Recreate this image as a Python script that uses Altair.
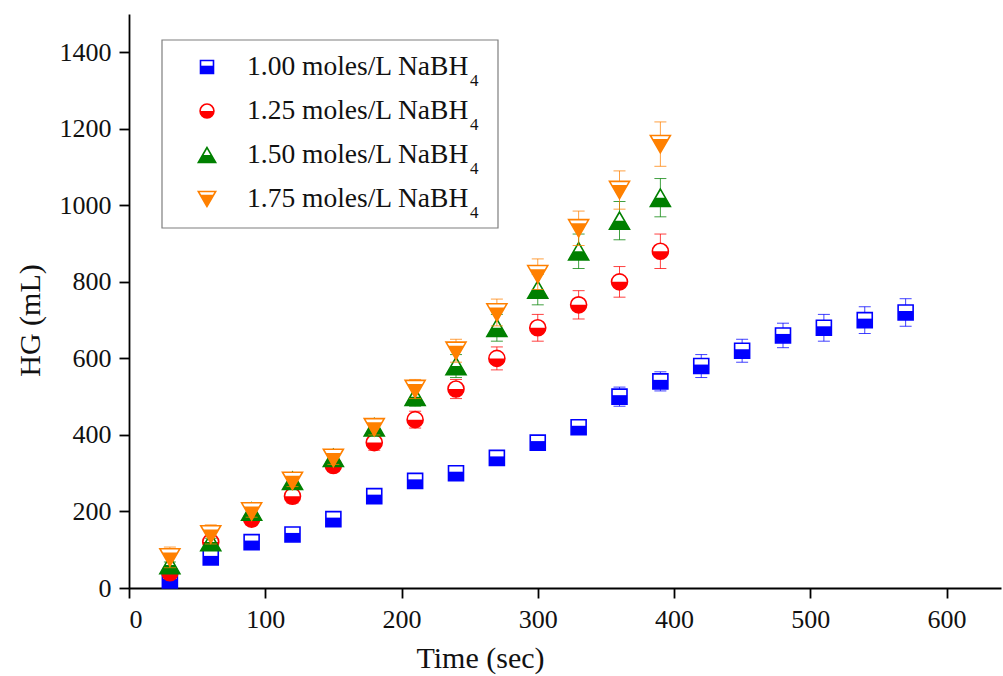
import altair as alt
import pandas as pd

# Sampling times (s)
time_long = [30, 60, 90, 120, 150, 180, 210, 240, 270, 300, 330, 360, 390,
             420, 450, 480, 510, 540, 570]
time_short = [30, 60, 90, 120, 150, 180, 210, 240, 270, 300, 330, 360, 390]

# Hydrogen generated (mL) and error (mL) for each NaBH4 concentration
hg_100 = [20, 80, 120, 140, 180, 240, 280, 300, 340, 380, 420, 500, 540,
          580, 620, 660, 680, 700, 720]
err_100 = [6, 10, 10, 10, 10, 10, 12, 12, 12, 14, 12, 25, 25,
           30, 30, 32, 35, 35, 36]

hg_125 = [40, 120, 180, 240, 320, 380, 440, 520, 600, 680, 740, 800, 880]
err_125 = [10, 12, 15, 18, 16, 20, 22, 25, 30, 35, 37, 40, 45]

hg_150 = [60, 120, 200, 280, 340, 420, 500, 580, 680, 780, 880, 960, 1020]
err_150 = [8, 10, 15, 15, 18, 20, 25, 30, 35, 40, 45, 50, 50]

hg_175 = [80, 140, 200, 280, 340, 420, 520, 620, 720, 820, 940, 1040, 1160]
err_175 = [27, 25, 15, 15, 17, 20, 25, 30, 35, 40, 45, 50, 58]

series_names = ["1.00", "1.25", "1.50", "1.75"]
legend_labels = ["1.00 moles/L NaBH", "1.25 moles/L NaBH",
                 "1.50 moles/L NaBH", "1.75 moles/L NaBH"]
legend_sub = "4"

colors = ["#0000FF", "#FF0000", "#008000", "#FF8000"]
shapes = ["square", "circle", "triangle-up", "triangle-down"]
# lower (filled) part of each half-filled symbol, in the unit symbol box
half_paths = [
    "M -1 -0.2 L 1 -0.2 L 1 1 L -1 1 Z",
    "M -1 0 A 1 1 0 0 0 1 0 Z",
    "M -0.5 0 L 0.5 0 L 1 0.866 L -1 0.866 Z",
    "M -0.789 -0.5 L 0.789 -0.5 L 0 0.866 Z",
]
sizes = [225, 256, 400, 400]

frames = []
for name, t, hg, er in [
    ("1.00", time_long, hg_100, err_100),
    ("1.25", time_short, hg_125, err_125),
    ("1.50", time_short, hg_150, err_150),
    ("1.75", time_short, hg_175, err_175),
]:
    df = pd.DataFrame({"time": t, "hg": hg, "err": er})
    df["series"] = name
    frames.append(df)
data = pd.concat(frames, ignore_index=True)
data["lo"] = data["hg"] - data["err"]
data["hi"] = data["hg"] + data["err"]

FONT = "Liberation Serif"
x_scale = alt.Scale(domain=[0, 640], nice=False, zero=False)
y_scale = alt.Scale(domain=[0, 1500], nice=False)

x_axis = alt.Axis(
    title="Time (sec)", values=[0, 100, 200, 300, 400, 500, 600], format="d",
    titleX=351, titleY=79, titleAnchor="start", titleAlign="center",
    titleBaseline="alphabetic", labelPadding=8,
)
y_axis = alt.Axis(
    title="HG (mL)", values=[0, 200, 400, 600, 800, 1000, 1200, 1400],
    format="d", titleX=-99, titleY=306, titleAngle=270, titleAlign="center",
    titleBaseline="middle", labelPadding=8,
)

base = alt.Chart(data)
layers = []
for i, name in enumerate(series_names):
    sub = base.transform_filter(alt.datum.series == name)
    col = colors[i]
    bars = sub.mark_rule(color=col, strokeWidth=1, opacity=0.75).encode(
        x=alt.X("time:Q", scale=x_scale, axis=x_axis),
        y=alt.Y("lo:Q", scale=y_scale, axis=y_axis),
        y2="hi:Q",
    )
    cap_lo = sub.mark_tick(color=col, thickness=1, size=12, orient="horizontal",
                           opacity=0.75).encode(x="time:Q", y="lo:Q")
    cap_hi = sub.mark_tick(color=col, thickness=1, size=12, orient="horizontal",
                           opacity=0.75).encode(x="time:Q", y="hi:Q")
    outline = sub.mark_point(shape=shapes[i], size=sizes[i], filled=False,
                             fill="white", fillOpacity=1, stroke=col,
                             strokeWidth=1.6, opacity=1).encode(
        x="time:Q", y="hg:Q")
    half = sub.mark_point(shape=half_paths[i], size=sizes[i], filled=True,
                          fill=col, fillOpacity=1, strokeWidth=0,
                          opacity=1).encode(x="time:Q", y="hg:Q")
    layers += [bars, cap_lo, cap_hi, outline, half]

# Legend box and entries
one = pd.DataFrame({"k": [0]})
legend_box = alt.Chart(one).mark_rect(
    fill="white", stroke="#7f7f7f", strokeWidth=1.2
).encode(x=alt.value(33), x2=alt.value(369), y=alt.value(26), y2=alt.value(214))
layers.append(legend_box)

for i, lab in enumerate(legend_labels):
    yy = 53 + 44 * i
    sym_o = alt.Chart(one).mark_point(
        shape=shapes[i], size=sizes[i] * 0.75, filled=False, fill="white",
        fillOpacity=1, stroke=colors[i], strokeWidth=1.6, opacity=1
    ).encode(x=alt.value(78), y=alt.value(yy))
    sym_h = alt.Chart(one).mark_point(
        shape=half_paths[i], size=sizes[i] * 0.75, filled=True,
        fill=colors[i], fillOpacity=1, strokeWidth=0, opacity=1
    ).encode(x=alt.value(78), y=alt.value(yy))
    txt = alt.Chart(pd.DataFrame({"label": [lab]})).mark_text(
        font=FONT, fontSize=27.5, align="left", baseline="middle", color="#111"
    ).encode(x=alt.value(118), y=alt.value(yy), text="label:N")
    sub4 = alt.Chart(pd.DataFrame({"label": [legend_sub]})).mark_text(
        font=FONT, fontSize=17, align="left", baseline="middle", color="#111"
    ).encode(x=alt.value(341), y=alt.value(yy + 14), text="label:N")
    layers += [sym_o, sym_h, txt, sub4]

chart = alt.layer(*layers).properties(
    width=872, height=574,
    autosize=alt.AutoSizeParams(type="none"),
    padding={"left": 129, "top": 14, "right": 2, "bottom": 88},
    background="white",
).configure_view(stroke=None).configure_axis(
    grid=False, domainColor="black", domainWidth=1.8, tickColor="black",
    tickWidth=1.8, tickSize=10, labelFont=FONT, labelFontSize=26,
    labelColor="#111", titleFont=FONT, titleFontSize=30,
    titleFontWeight="normal", titleColor="#111",
)

chart.save("out.html", embed_options={"renderer": "svg", "actions": False})
